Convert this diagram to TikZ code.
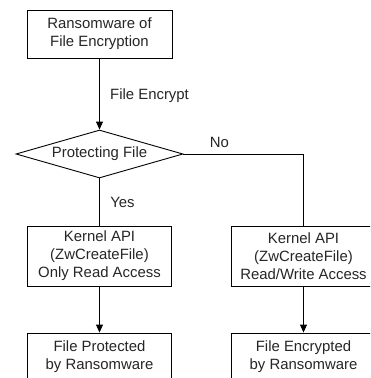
\documentclass[tikz,border=0pt]{standalone}
\usepackage{fontspec}
\setmainfont{Liberation Sans}
\usetikzlibrary{shapes.geometric,arrows.meta}
\begin{document}
\begin{tikzpicture}[x=1pt,y=-1pt,
  every node/.style={font=\fontsize{14.9}{18}\selectfont, text=black!85},
  box/.style={draw, line width=0.9pt, minimum width=145pt, inner sep=0pt, align=center},
  dec/.style={draw, diamond, shape aspect=3.5, line width=0.9pt, minimum width=167pt, minimum height=48pt, inner sep=0pt},
  conn/.style={line width=0.9pt},
  arr/.style={conn, -{Triangle[length=8pt,width=7pt]}},
  lab/.style={inner sep=0pt}]
\useasboundingbox (0,0) rectangle (370,378);
\fill[white] (0,0) rectangle (370,378);
\clip (0,0) rectangle (370,378);
\node[box, minimum height=48pt] (top) at (99.5,34) {Ransomware of\\File Encryption};
\node[dec] (dec) at (99.5,154) {Protecting File};
\node[box, minimum height=60pt, minimum width=144pt] (kl) at (99.5,256) {Kernel API\\(ZwCreateFile)\\Only Read Access};
\node[box, minimum height=60pt, minimum width=144pt] (kr) at (303.5,256) {Kernel API\\(ZwCreateFile)\\Read/Write Access};
\node[box, minimum height=48pt, minimum width=144pt] (bl) at (99.5,357) {File Protected\\by Ransomware};
\node[box, minimum height=48pt, minimum width=144pt] (br) at (303.5,357) {File Encrypted\\by Ransomware};
\draw[arr] (top.south) -- (dec.north);
\draw[conn] (dec.south) -- (kl.north);
\draw[conn] (dec.east) -| (kr.north);
\draw[arr] (kl.south) -- (bl.north);
\draw[arr] (kr.south) -- (br.north);
\node[lab, anchor=west] (lenc) at (110,96) {File Encrypt};
\node[lab] (lno) at (219.5,142) {No};
\node[lab] (lyes) at (122.5,202) {Yes};
\end{tikzpicture}
\end{document}
